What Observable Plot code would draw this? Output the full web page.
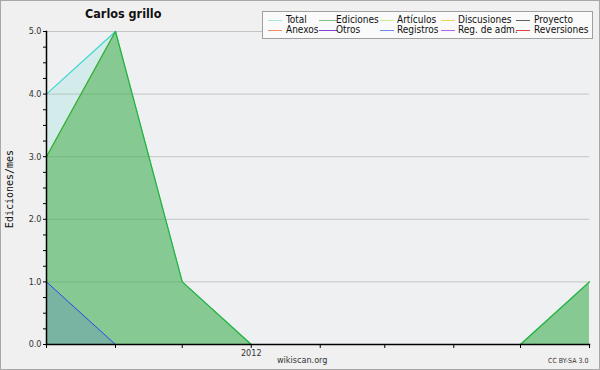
<!DOCTYPE html>
<html><head><meta charset="utf-8">
<script src="https://cdn.jsdelivr.net/npm/d3@7"></script>
<script src="https://cdn.jsdelivr.net/npm/@observablehq/plot@0.6"></script>
<style>
body{margin:0;background:#f0f0f0;}
#wrap{position:relative;width:600px;height:370px;background:#f0f0f0;overflow:hidden;font-family:"DejaVu Sans Condensed","DejaVu Sans",sans-serif;}
#wrap svg{position:absolute;left:0;top:0;}
.abs{position:absolute;white-space:nowrap;}
#border{position:absolute;left:0;top:0;width:600px;height:370px;box-sizing:border-box;border:1px solid #a8a8a8;pointer-events:none;}
#legend{position:absolute;left:262px;top:11px;width:331px;height:28px;box-sizing:border-box;background:#fafafa;border:1px solid #a0a0a0;}
.li{position:absolute;height:0;border-top:1px solid;}
.lt{position:absolute;font-size:10px;line-height:10px;height:10px;color:#111;white-space:nowrap;}
</style></head>
<body>
<div id="wrap"></div>
<script>
const months = ["2011-10","2011-11","2011-12","2012-01","2012-02","2012-03","2012-04","2012-05","2012-06"];
const total = [4,5,1,0,0,0,0,0,1];
const ediciones = [3,5,1,0,0,0,0,0,1];
const registros = [1,0,0,0,0,0,0,0,0];
const yTicks = [0,0.25,0.5,0.75,1,1.25,1.5,1.75,2,2.25,2.5,2.75,3,3.25,3.5,3.75,4,4.25,4.5,4.75,5];
const legendNames = ["Total","Ediciones","Artículos","Discusiones","Proyecto","Anexos","Otros","Registros","Reg. de adm.","Reversiones"];
const legendColors = ["#a8e4e0","#80c080","#c8f080","#f0d060","#606060","#f09060","#8040d0","#7088f0","#c060e0","#e04040"];

const data = months.map((m,i)=>({date:new Date(m+"-01T00:00:00Z"), total:total[i], ediciones:ediciones[i], registros:registros[i]}));

const chart = Plot.plot({
  width:600, height:370,
  marginLeft:46, marginRight:11, marginTop:31, marginBottom:26,
  style:{background:"transparent", fontFamily:"DejaVu Sans Condensed, DejaVu Sans, sans-serif", fontSize:"9px", color:"#333"},
  x:{type:"utc", domain:[data[0].date, data[data.length-1].date]},
  y:{domain:[0,5]},
  marks:[
    Plot.frame({fill:"#eef0f2", stroke:null}),
    Plot.gridY([1,2,3,4,5], {stroke:"#c4c4c4", strokeOpacity:1}),
    Plot.areaY(data, {x:"date", y:"total", fill:"#40d0c0", fillOpacity:0.15}),
    Plot.areaY(data, {x:"date", y:"ediciones", fill:"#3aa83a", fillOpacity:0.5}),
    Plot.areaY(data, {x:"date", y:"registros", fill:"#4060e0", fillOpacity:0.2}),
    Plot.lineY(data, {x:"date", y:"total", stroke:"#40d8d0", strokeWidth:1.2}),
    Plot.lineY(data, {x:"date", y:"ediciones", stroke:"#30b030", strokeWidth:1.2}),
    Plot.lineY(data, {x:"date", y:"registros", stroke:"#2848f0", strokeWidth:1}),
    Plot.axisX({ticks:d3.utcMonth.every(1), tickSize:4, tickPadding:1, stroke:"#000", fill:"#333",
      tickFormat:d=>d.getUTCMonth()===0?String(d.getUTCFullYear()):"", label:null}),
    Plot.axisY({ticks:yTicks, tickSize:3, tickPadding:2, stroke:"#000", fill:"#333",
      tickFormat:d=>Number.isInteger(d)?d.toFixed(1):"", label:null}),
    Plot.frame({anchor:"left", stroke:"#000", strokeWidth:1.5}),
    Plot.frame({anchor:"bottom", stroke:"#000", strokeWidth:1.5})
  ]
});
const wrap = document.getElementById("wrap");
wrap.appendChild(chart);

function addText(txt, css){const d=document.createElement("div");d.className="abs";d.textContent=txt;Object.assign(d.style,css);wrap.appendChild(d);return d;}
addText("Carlos grillo",{left:"85px",top:"6px",fontSize:"12.5px",fontWeight:"bold",color:"#111"});
addText("Ediciones/mes",{left:"9px",top:"189px",fontFamily:"DejaVu Sans Mono, monospace",fontSize:"10px",color:"#111",transform:"translate(-50%,-50%) rotate(-90deg)"});
addText("wikiscan.org",{left:"277px",top:"355px",fontSize:"9px",color:"#333"});
addText("CC BY-SA 3.0",{left:"548px",top:"357px",fontSize:"7px",color:"#333"});

const leg = document.createElement("div"); leg.id="legend"; wrap.appendChild(leg);
const lineX = [5,56,117,178,253];
const lineW = [14,18,14,14,14];
const textX = [23,73,134,195,271];
legendNames.forEach((n,i)=>{
  const col=i%5,row=Math.floor(i/5);
  const ly = row===0?8:18;
  const l=document.createElement("div");l.className="li";
  Object.assign(l.style,{left:lineX[col]+"px",top:ly+"px",width:lineW[col]+"px",borderTopColor:legendColors[i]});
  leg.appendChild(l);
  const t=document.createElement("div");t.className="lt";t.textContent=n;
  Object.assign(t.style,{left:textX[col]+"px",top:(ly-5)+"px"});
  leg.appendChild(t);
});
const b=document.createElement("div");b.id="border";wrap.appendChild(b);
</script>
</body></html>
